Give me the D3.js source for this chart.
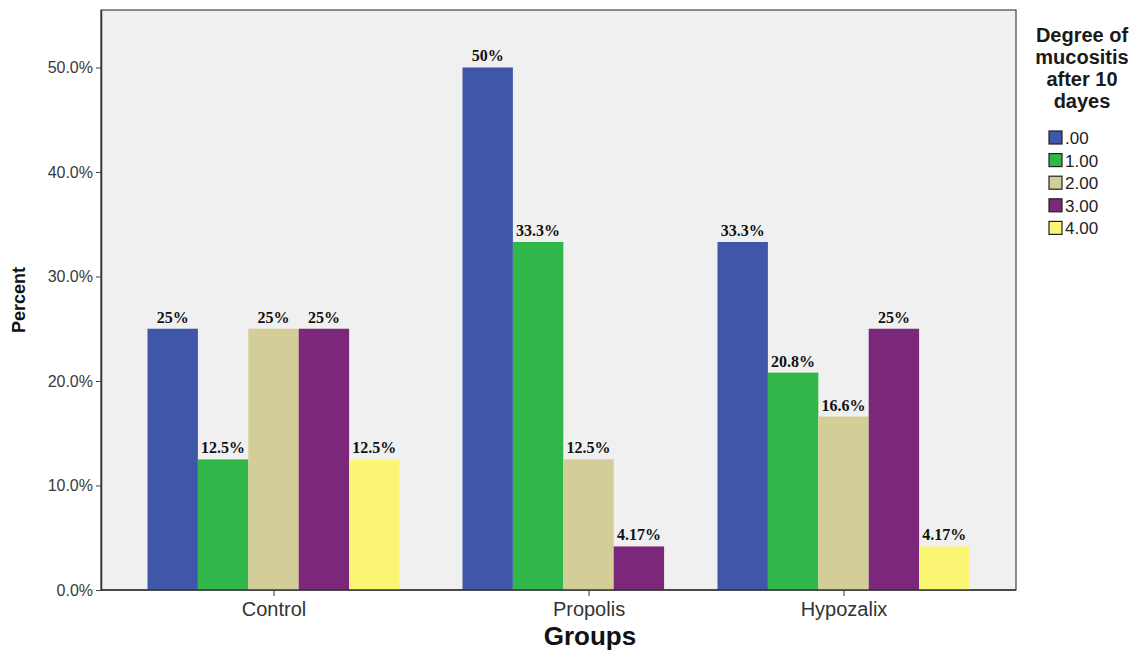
<!DOCTYPE html>
<html>
<head>
<meta charset="utf-8">
<script src="https://cdn.jsdelivr.net/npm/d3@7/dist/d3.min.js"></script>
<style>
  html, body { margin: 0; padding: 0; background: #ffffff; }
  svg { display: block; }
</style>
</head>
<body>
<svg id="chart" width="1135" height="650"></svg>
<script>
// ---- data ----
const groups = ["Control", "Propolis", "Hypozalix"];
const levels = [".00", "1.00", "2.00", "3.00", "4.00"];
const level000 = [25, 50, 33.3];
const level100 = [12.5, 33.3, 20.8];
const level200 = [25, 12.5, 16.6];
const level300 = [25, 4.17, 25];
const level400 = [12.5, 0, 4.17];
const yTicks = [0, 10, 20, 30, 40, 50];
const legendTitle = ["Degree of", "mucositis", "after 10", "dayes"];
const colors = ["#3e57a9", "#31b64a", "#d3cd97", "#7c287a", "#faf572"];

const series = [level000, level100, level200, level300, level400];
const rows = [];
levels.forEach((lv, li) => {
  groups.forEach((g, gi) => rows.push({ group: g, level: lv, value: series[li][gi] }));
});

// ---- layout ----
const svg = d3.select("#chart");
const plot = { left: 101, right: 1016, top: 10, bottom: 590 };

const y = d3.scaleLinear().domain([0, 55.5]).range([plot.bottom, plot.top]);
const xGroup = d3.scaleOrdinal().domain(groups).range([273.5, 588.5, 843.5]);
const xSub = d3.scaleBand().domain(levels).range([-126, 126]).padding(0);
const color = d3.scaleOrdinal().domain(levels).range(colors);

// plot background + frame
svg.append("rect")
  .attr("x", plot.left).attr("y", plot.top)
  .attr("width", plot.right - plot.left).attr("height", plot.bottom - plot.top)
  .attr("fill", "#f0f0f0").attr("stroke", "#444").attr("stroke-width", 1.2);

// bars
svg.append("g").selectAll("rect")
  .data(rows.filter(d => d.value > 0))
  .join("rect")
  .attr("x", d => xGroup(d.group) + xSub(d.level))
  .attr("y", d => y(d.value))
  .attr("width", xSub.bandwidth())
  .attr("height", d => y(0) - y(d.value))
  .attr("fill", d => color(d.level));

// value labels
svg.append("g").selectAll("text")
  .data(rows.filter(d => d.value > 0))
  .join("text")
  .attr("x", d => xGroup(d.group) + xSub(d.level) + xSub.bandwidth() / 2)
  .attr("y", d => y(d.value) - 6)
  .attr("text-anchor", "middle")
  .attr("font-family", "'Liberation Serif', 'Times New Roman', serif")
  .attr("font-weight", "bold")
  .attr("font-size", 16)
  .attr("fill", "#111")
  .text(d => d.value + "%");

// y axis
const yAxis = svg.append("g")
  .attr("transform", `translate(${plot.left},0)`)
  .call(d3.axisLeft(y).tickValues(yTicks).tickFormat(d => d.toFixed(1) + "%")
    .tickSizeInner(5).tickSizeOuter(0).tickPadding(3));
yAxis.select(".domain").attr("stroke", "#333").attr("stroke-width", 1.5);
yAxis.selectAll(".tick line").attr("stroke", "#444");
yAxis.selectAll(".tick text")
  .attr("font-family", "'Liberation Sans', Arial, sans-serif")
  .attr("font-size", 16).attr("fill", "#3a3a3a");

// x axis
const xAxis = svg.append("g")
  .attr("transform", `translate(0,${plot.bottom})`)
  .call(d3.axisBottom(xGroup).tickSizeInner(6).tickSizeOuter(0).tickPadding(6));
xAxis.select(".domain").remove();
xAxis.selectAll(".tick line").attr("stroke", "#333");
xAxis.selectAll(".tick text")
  .attr("font-family", "'Liberation Sans', Arial, sans-serif")
  .attr("font-size", 20).attr("fill", "#333");
svg.append("line")
  .attr("x1", plot.left).attr("x2", plot.right)
  .attr("y1", plot.bottom).attr("y2", plot.bottom)
  .attr("stroke", "#333").attr("stroke-width", 1.5);

// axis titles
svg.append("text")
  .attr("x", 590).attr("y", 645)
  .attr("text-anchor", "middle")
  .attr("font-family", "'Liberation Sans', Arial, sans-serif")
  .attr("font-weight", "bold").attr("font-size", 26).attr("fill", "#111")
  .text("Groups");

svg.append("text")
  .attr("transform", "translate(25,300) rotate(-90)")
  .attr("text-anchor", "middle")
  .attr("font-family", "'Liberation Sans', Arial, sans-serif")
  .attr("font-weight", "bold").attr("font-size", 18).attr("fill", "#111")
  .text("Percent");

// legend
const legend = svg.append("g");
legend.selectAll("text.title")
  .data(legendTitle)
  .join("text")
  .attr("class", "title")
  .attr("x", 1082)
  .attr("y", (d, i) => 42 + i * 22)
  .attr("text-anchor", "middle")
  .attr("font-family", "'Liberation Sans', Arial, sans-serif")
  .attr("font-weight", "bold").attr("font-size", 20).attr("fill", "#1a1a1a")
  .text(d => d);

const items = legend.selectAll("g.item")
  .data(levels)
  .join("g")
  .attr("class", "item")
  .attr("transform", (d, i) => `translate(1049,${131 + i * 22.6})`);
items.append("rect")
  .attr("width", 13).attr("height", 13)
  .attr("fill", d => color(d))
  .attr("stroke", "#222").attr("stroke-width", 1.2);
items.append("text")
  .attr("x", 16).attr("y", 13)
  .attr("font-family", "'Liberation Sans', Arial, sans-serif")
  .attr("font-size", 17).attr("fill", "#222")
  .text(d => d);
</script>
</body>
</html>
